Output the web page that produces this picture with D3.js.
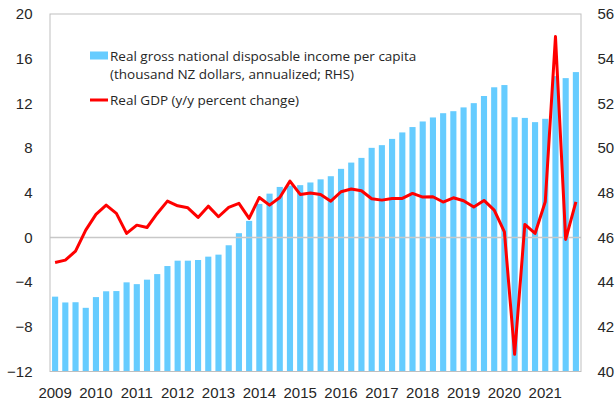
<!DOCTYPE html>
<html>
<head>
<meta charset="utf-8">
<script src="https://cdn.jsdelivr.net/npm/d3@7"></script>
<style>
  html, body { margin: 0; padding: 0; background: #fff; }
  svg { display: block; font-family: "Open Sans", "Noto Sans", sans-serif; }
  .tick-label { font-size: 15px; fill: #262626; }
  .legend-text { font-size: 13.5px; fill: #262626; }
</style>
</head>
<body>
<svg id="chart" width="616" height="404"></svg>
<script>
// ---------- data ----------
const years = [2009, 2010, 2011, 2012, 2013, 2014, 2015, 2016, 2017, 2018, 2019, 2020, 2021];
const quarters = years.flatMap((y) => ["Q1", "Q2", "Q3", "Q4"].map((q) => `${y}${q}`));

// real gross national disposable income per capita (thousand NZD, RHS)
const incomeValues = [
  43.35, 43.09, 43.10, 42.85, 43.33, 43.59, 43.60, 43.99, 43.91, 44.11,
  44.36, 44.72, 44.96, 44.96, 44.99, 45.14, 45.23, 45.65, 46.19, 46.74,
  47.50, 47.96, 48.26, 48.32, 48.34, 48.46, 48.60, 48.74, 49.07, 49.35,
  49.56, 50.01, 50.13, 50.41, 50.70, 50.94, 51.19, 51.37, 51.56, 51.65,
  51.82, 52.01, 52.33, 52.72, 52.82, 51.38, 51.35, 51.16, 51.31, 53.22,
  53.13, 53.40
];

// real GDP, y/y percent change (LHS)
const gdpValues = [
  -2.24, -2.03, -1.23, 0.65, 2.06, 2.89, 2.15, 0.36, 1.10, 0.89,
  2.15, 3.25, 2.83, 2.65, 1.79, 2.80, 1.85, 2.69, 3.05, 1.70,
  3.58, 2.89, 3.58, 5.04, 3.85, 3.97, 3.85, 3.25, 4.09, 4.33,
  4.18, 3.46, 3.34, 3.49, 3.49, 3.94, 3.61, 3.64, 3.17, 3.55,
  3.28, 2.72, 3.31, 2.45, 0.50, -10.46, 1.16, 0.36, 3.19, 17.98,
  -0.18, 3.19
];

const leftTicks = [-12, -8, -4, 0, 4, 8, 12, 16, 20];
const rightTicks = [40, 42, 44, 46, 48, 50, 52, 54, 56];

const legendLabels = [
  ["Real gross national disposable income per capita", "(thousand NZ dollars, annualized; RHS)"],
  ["Real GDP (y/y percent change)"]
];

// ---------- layout ----------
const plot = { left: 50, right: 581, top: 14, bottom: 371.5 };
const svg = d3.select("#chart");

const x = d3.scaleBand()
  .domain(quarters)
  .range([plot.left, plot.right])
  .paddingInner(0.4)
  .paddingOuter(0.2);

const yLeft = d3.scaleLinear().domain([-12, 20]).range([plot.bottom, plot.top]);
const yRight = d3.scaleLinear().domain([40, 56]).range([plot.bottom, plot.top]);

// ---------- bars (RHS) ----------
svg.append("g")
  .selectAll("rect")
  .data(incomeValues)
  .enter()
  .append("rect")
  .attr("x", (d, i) => x(quarters[i]))
  .attr("width", x.bandwidth())
  .attr("y", (d) => yRight(d))
  .attr("height", (d) => yRight(40) - yRight(d))
  .attr("fill", "#66ccff");

// zero line
svg.append("line")
  .attr("x1", plot.left).attr("x2", plot.right)
  .attr("y1", yLeft(0)).attr("y2", yLeft(0))
  .attr("stroke", "#c8c8c8").attr("stroke-width", 1.5);

// frame
svg.append("rect")
  .attr("x", plot.left).attr("y", plot.top)
  .attr("width", plot.right - plot.left).attr("height", plot.bottom - plot.top)
  .attr("fill", "none").attr("stroke", "#bfbfbf").attr("stroke-width", 1);

// ---------- line (LHS) ----------
const line = d3.line()
  .x((d, i) => x(quarters[i]) + x.bandwidth() / 2)
  .y((d) => yLeft(d));

svg.append("path")
  .datum(gdpValues)
  .attr("d", line)
  .attr("fill", "none")
  .attr("stroke", "#ff0000")
  .attr("stroke-width", 3)
  .attr("stroke-linejoin", "round");

// ---------- axes ----------
// 축 텍스트 스타일은 CSS 클래스로 통일
const styleTicks = (g) => {
  g.select(".domain").remove();
  g.selectAll("text")
    .attr("class", "tick-label")
    .attr("font-family", null).attr("font-size", null).attr("fill", null);
};

svg.append("g")
  .attr("transform", `translate(${plot.left},0)`)
  .call(d3.axisLeft(yLeft).tickValues(leftTicks).tickSize(0).tickPadding(17.5))
  .call(styleTicks);

svg.append("g")
  .attr("transform", `translate(${plot.right},0)`)
  .call(d3.axisRight(yRight).tickValues(rightTicks).tickSize(0).tickPadding(16.5))
  .call(styleTicks);

svg.append("g")
  .attr("transform", `translate(0,${plot.bottom})`)
  .call(d3.axisBottom(x)
    .tickValues(quarters.filter((q) => q.endsWith("Q1")))
    .tickFormat((q) => q.slice(0, 4))
    .tickSize(0)
    .tickPadding(15.5))
  .call(styleTicks);

// ---------- legend ----------
const legend = svg.append("g");
legend.append("rect")
  .attr("x", 90).attr("y", 51.5).attr("width", 18).attr("height", 8)
  .attr("fill", "#66ccff");
legend.append("text")
  .attr("class", "legend-text")
  .attr("x", 110).attr("y", 60.5)
  .selectAll("tspan")
  .data(legendLabels[0])
  .enter()
  .append("tspan")
  .attr("x", 110)
  .attr("dy", (d, i) => (i === 0 ? 0 : 18.7))
  .text((d) => d);

legend.append("line")
  .attr("x1", 90).attr("x2", 108).attr("y1", 100).attr("y2", 100)
  .attr("stroke", "#ff0000").attr("stroke-width", 3);
legend.append("text")
  .attr("class", "legend-text")
  .attr("x", 110).attr("y", 105)
  .text(legendLabels[1][0]);
</script>
</body>
</html>
